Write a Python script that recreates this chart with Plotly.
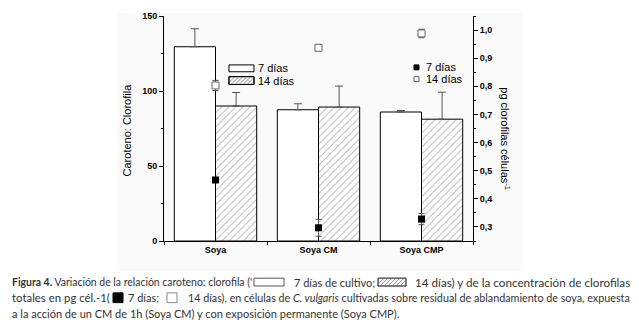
import plotly.graph_objects as go

categories = ["Soya", "Soya CM", "Soya CMP"]
series_names = ["7 días", "14 días"]
ratio_7d = [129.5, 87.5, 86.0]
ratio_7d_err = [12.0, 4.0, 1.0]
ratio_14d = [90.0, 89.3, 81.2]
ratio_14d_err = [9.0, 14.0, 18.0]
chl_7d = [0.467, 0.297, 0.328]
chl_7d_err = [0.0, 0.03, 0.02]
chl_14d = [0.803, 0.937, 0.988]
chl_14d_err = [0.018, 0.0, 0.015]
left_ticks = [0, 50, 100, 150]
right_ticks = [0.3, 0.4, 0.5, 0.6, 0.7, 0.8, 0.9, 1.0]
left_title = "Caroteno: Clorofila"
right_title = "pg clorofilas células<sup>-1</sup>"

# page body adds an 8px margin; the figure is sized so the page does not scroll
OFF = 8
W, H = 639 - 2 * OFF, 332 - 2 * OFF
# plot area in screen pixels (reference coordinates)
L, R, T, B = 164, 473, 11, 241


def px(x):
    return (x - L) / (R - L)


def py(y):
    return (B - y) / (B - T)


FONT = "Liberation Sans, Arial, sans-serif"
CAP_FONT = "Lato, Open Sans, sans-serif"
ERRC = "#555"

fig = go.Figure()
fig.add_trace(go.Bar(
    x=categories, y=ratio_7d, name=series_names[0],
    marker=dict(color="white", line=dict(color="black", width=1)),
    error_y=dict(type="data", array=ratio_7d_err, arrayminus=[0] * 3, symmetric=False,
                 color=ERRC, thickness=1, width=4),
    showlegend=False))
fig.add_trace(go.Bar(
    x=categories, y=ratio_14d, name=series_names[1],
    marker=dict(color="white", line=dict(color="black", width=1),
                pattern=dict(shape="/", fgcolor="#6a6a6a", bgcolor="white", size=5, solidity=0.18)),
    error_y=dict(type="data", array=ratio_14d_err, arrayminus=[0] * 3, symmetric=False,
                 color=ERRC, thickness=1, width=4),
    showlegend=False))
fig.add_trace(go.Scatter(
    x=categories, y=chl_7d, yaxis="y2", mode="markers", name=series_names[0],
    marker=dict(symbol="square", size=7, color="black"),
    error_y=dict(type="data", array=chl_7d_err, color=ERRC, thickness=1, width=3),
    showlegend=False))
fig.add_trace(go.Scatter(
    x=categories, y=chl_14d, yaxis="y2", mode="markers", name=series_names[1],
    marker=dict(symbol="square", size=7, color="white", line=dict(color="#666", width=1)),
    error_y=dict(type="data", array=chl_14d_err, color=ERRC, thickness=1, width=3),
    showlegend=False))

shapes = []
annotations = []

# faint background of the pasted chart image
shapes.append(dict(type="rect", xref="paper", yref="paper", x0=px(117), x1=px(523),
                   y0=py(272), y1=py(OFF), fillcolor="#fafafa", line=dict(width=0), layer="below"))


def rect(x0, y0, x1, y1, fill="white", line="black", lw=1):
    shapes.append(dict(type="rect", xref="paper", yref="paper", x0=px(x0), x1=px(x1),
                       y0=py(y1), y1=py(y0), fillcolor=fill, line=dict(color=line, width=lw)))


def hatch(x0, y0, x1, y1, s=4, color="#777"):
    segs = []
    c = x0 + y0 + s / 2
    while c < x1 + y1:
        xa = max(x0, c - y1)
        xb = min(x1, c - y0)
        if xb > xa:
            segs.append("M%.5f,%.5f L%.5f,%.5f" % (px(xa), py(c - xa), px(xb), py(c - xb)))
        c += s
    shapes.append(dict(type="path", xref="paper", yref="paper", path=" ".join(segs),
                       line=dict(color=color, width=0.8)))


def text(x, y, s, size=11, family=FONT, color="black", anchor="left", angle=0):
    annotations.append(dict(xref="paper", yref="paper", x=px(x), y=py(y), text=s,
                            showarrow=False, xanchor=anchor, yanchor="middle",
                            font=dict(family=family, size=size, color=color),
                            textangle=angle))


# bar legend
rect(229, 61, 254, 68)
text(256, 64.5, series_names[0])
rect(229, 73, 254, 81)
hatch(229, 73, 254, 81)
rect(229, 73, 254, 81, fill="rgba(0,0,0,0)")
text(256, 77, series_names[1])

# marker legend
rect(414, 61, 419, 66, fill="black")
text(424, 63.5, series_names[0])
rect(414, 73, 419, 78, fill="white", line="#666")
text(424, 75.5, series_names[1])

# axis titles
text(127, 128, left_title, size=11, anchor="center", angle=-90)
text(505, 136, right_title, size=11, anchor="center", angle=90)

# caption
CC = "#333"
text(10, 283, "<b>Figura 4.</b> Variación de la relación caroteno: clorofila ('", size=10.45,
     family=CAP_FONT, color=CC)
rect(254, 279, 284, 287, line="#555")
text(292, 283, "7 días de cultivo;", family=CAP_FONT, color=CC)
rect(378, 279, 406, 287, line="#555")
hatch(378, 279, 406, 287, color="#777")
rect(378, 279, 406, 287, fill="rgba(0,0,0,0)", line="#555")
text(413, 283, "14 días) y de la concentración de clorofilas", size=11.7, family=CAP_FONT, color=CC)

text(10, 299, "totales en pg cél.-1(", size=11.4, family=CAP_FONT, color=CC)
rect(113, 294, 123, 304, fill="black")
text(126, 299, "7 días;", family=CAP_FONT, color=CC)
rect(167, 294, 177, 304, fill="white", line="#888")
text(186, 299, "14 días), en células de <i>C. vulgaris</i> cultivadas sobre residual de ablandamiento de soya, expuesta",
     size=10.75, family=CAP_FONT, color=CC)
text(10, 315, "a la acción de un CM de 1h (Soya CM) y con exposición permanente (Soya CMP).",
     family=CAP_FONT, color=CC)

fig.update_layout(
    width=W, height=H,
    margin=dict(l=L - OFF, r=W - (R - OFF), t=T - OFF, b=H - (B - OFF), pad=0),
    paper_bgcolor="white", plot_bgcolor="rgba(0,0,0,0)",
    barmode="group", bargap=0.2, bargroupgap=0,
    separators=",.",
    font=dict(family=FONT, size=9, color="black"),
    xaxis=dict(type="category", range=[-0.5, 2.5], tickson="boundaries", ticks="outside",
               ticklen=3, tickcolor="black", showline=True, linecolor="black", linewidth=1,
               showgrid=False, zeroline=False,
               tickfont=dict(family=FONT, size=9, color="black", weight="bold")),
    yaxis=dict(range=[0, 150], tickvals=left_ticks, ticks="outside", ticklen=4,
               tickcolor="black", showline=True, linecolor="black", linewidth=1,
               showgrid=False, zeroline=False, ticklabeloverflow="allow",
               minor=dict(tick0=0, dtick=25, ticks="outside", ticklen=2, tickcolor="black"),
               tickfont=dict(family=FONT, size=9, color="black", weight="bold")),
    yaxis2=dict(overlaying="y", side="right", range=[0.25, 1.05], tickvals=right_ticks,
                tickformat=".1f", ticks="outside", ticklen=4, tickcolor="black",
                showline=True, linecolor="black", linewidth=1, showgrid=False, zeroline=False,
                ticklabeloverflow="allow",
                minor=dict(tick0=0.25, dtick=0.05, ticks="outside", ticklen=2, tickcolor="black"),
                tickfont=dict(family=FONT, size=9, color="black", weight="bold")),
    shapes=shapes, annotations=annotations,
)

fig.write_html("out.html")
